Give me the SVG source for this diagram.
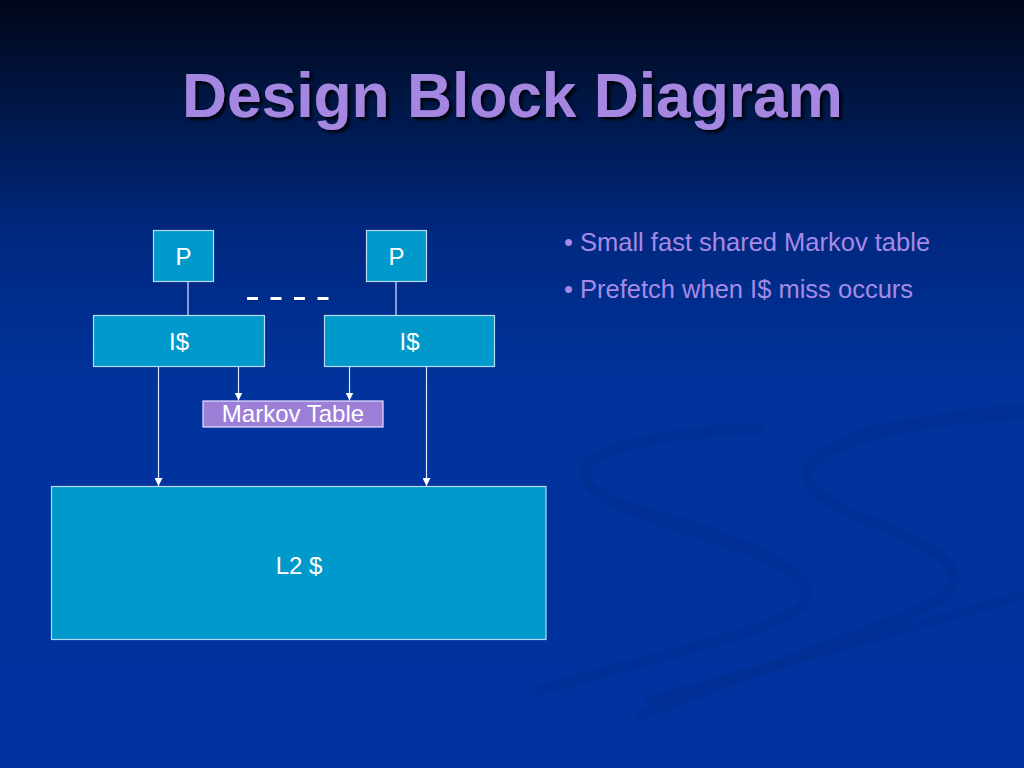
<svg xmlns="http://www.w3.org/2000/svg" width="1024" height="768" viewBox="0 0 1024 768">
  <defs>
    <linearGradient id="bg" x1="0" y1="0" x2="0" y2="1">
      <stop offset="0" stop-color="#00061a"/>
      <stop offset="0.12" stop-color="#001540"/>
      <stop offset="0.3" stop-color="#00287f"/>
      <stop offset="0.5" stop-color="#00339c"/>
      <stop offset="1" stop-color="#0033a0"/>
    </linearGradient>
    <marker id="arrow" viewBox="0 0 10 10" refX="10" refY="5" markerWidth="8" markerHeight="8" markerUnits="userSpaceOnUse" orient="auto">
      <path d="M0,0 L10,5 L0,10 Z" fill="#ffffff"/>
    </marker>
    <filter id="shadow" x="-5%" y="-20%" width="110%" height="140%">
      <feDropShadow dx="3" dy="3" stdDeviation="1.5" flood-color="#000000" flood-opacity="0.8"/>
    </filter>
  </defs>
  <style>
    .box { fill: #0099cc; stroke: #b8dcf5; stroke-width: 1.2; }
    .mk { fill: #9d7fd8; stroke: #e8e0ff; stroke-width: 1.2; }
    .lbl { font-family: "Liberation Sans", Arial, sans-serif; font-size: 24px; fill: #ffffff; text-anchor: middle; }
    .bul { font-family: "Liberation Sans", Arial, sans-serif; font-size: 25.5px; fill: #a68ae6; }
    .ln { stroke: #d8e8ff; stroke-width: 1.2; fill: none; }
    .swirl { fill: none; stroke: #002c8e; stroke-linecap: round; opacity: 0.45; }
  </style>

  <rect x="0" y="0" width="1024" height="768" fill="url(#bg)"/>

  <!-- background swirls -->
  <g id="background-swirls">
    <path class="swirl" stroke-width="11" d="M760,428 C680,432 590,445 585,470 C580,495 640,515 705,536 C770,556 815,575 805,600 C795,625 700,645 540,690"/>
    <path class="swirl" stroke-width="4" d="M620,500 C680,520 740,535 770,555"/>
    <path class="swirl" stroke-width="11" d="M1020,415 C930,418 820,440 808,468 C800,490 840,510 880,525 C930,545 965,565 950,590 C935,610 880,625 640,715"/>
    <path class="swirl" stroke-width="9" d="M1024,595 C900,630 780,665 650,700"/>
    <path class="swirl" stroke-width="5" d="M855,432 C900,422 960,412 1024,405"/>
  </g>

  <!-- title -->
  <text x="182" y="117" font-family="'Liberation Sans', Arial, sans-serif" font-weight="bold" font-size="63" fill="#a586e0" textLength="661" lengthAdjust="spacingAndGlyphs" filter="url(#shadow)">Design Block Diagram</text>

  <!-- bullets -->
  <text class="bul" x="564" y="251">• Small fast shared Markov table</text>
  <text class="bul" x="564" y="298">• Prefetch when I$ miss occurs</text>

  <!-- connectors -->
  <g id="connectors">
    <line class="ln" x1="188" y1="281" x2="188" y2="315.5"/>
    <line class="ln" x1="396" y1="281" x2="396" y2="315.5"/>
    <line class="ln" x1="238.5" y1="367" x2="238.5" y2="400.5" marker-end="url(#arrow)"/>
    <line class="ln" x1="349.5" y1="367" x2="349.5" y2="400.5" marker-end="url(#arrow)"/>
    <line class="ln" x1="158.5" y1="367" x2="158.5" y2="486" marker-end="url(#arrow)"/>
    <line class="ln" x1="426.5" y1="367" x2="426.5" y2="486" marker-end="url(#arrow)"/>
    <line x1="247" y1="298.5" x2="329" y2="298.5" stroke="#ffffff" stroke-width="3" stroke-dasharray="11,12.5"/>
  </g>

  <g id="p1">
    <rect class="box" x="153.5" y="230.5" width="60" height="51"/>
    <text class="lbl" x="183.5" y="265">P</text>
  </g>
  <g id="p2">
    <rect class="box" x="366.5" y="230.5" width="60" height="51"/>
    <text class="lbl" x="396.5" y="265">P</text>
  </g>
  <g id="icache1">
    <rect class="box" x="93.5" y="315.5" width="171" height="51"/>
    <text class="lbl" x="179" y="350">I$</text>
  </g>
  <g id="icache2">
    <rect class="box" x="324.5" y="315.5" width="170" height="51"/>
    <text class="lbl" x="409.5" y="350">I$</text>
  </g>
  <g id="markov">
    <rect class="mk" x="203" y="401" width="180" height="26"/>
    <text class="lbl" x="293" y="422" font-size="25">Markov Table</text>
  </g>
  <g id="l2">
    <rect class="box" x="51.5" y="486.5" width="494.5" height="153"/>
    <text class="lbl" x="299" y="574">L2 $</text>
  </g>
</svg>
